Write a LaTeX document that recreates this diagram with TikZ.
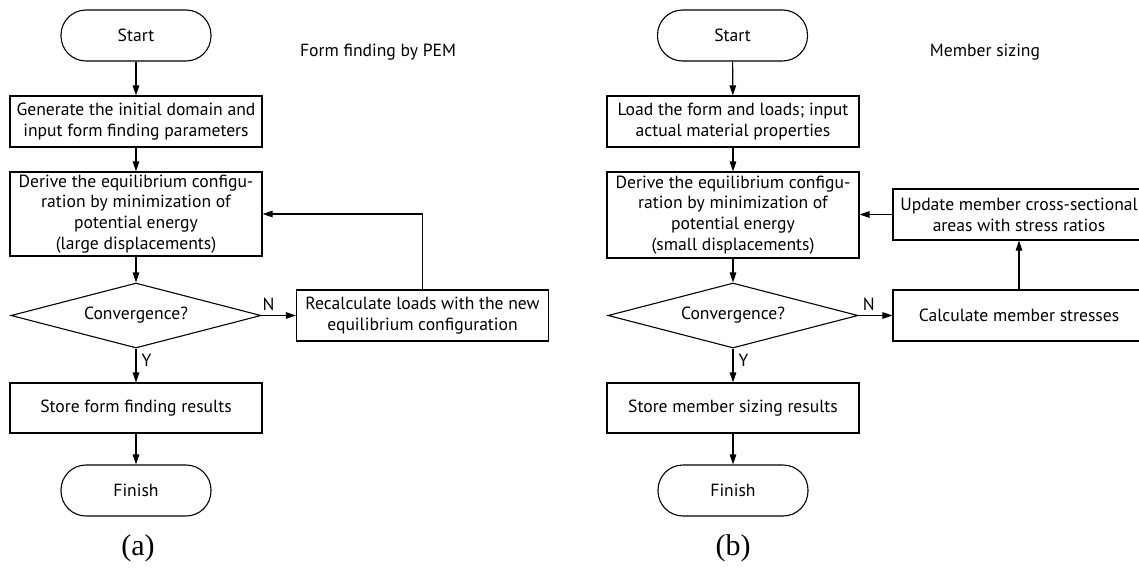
\documentclass[tikz,border=0pt]{standalone}
\usepackage{fontspec}
\setmainfont{PT Sans}
\newfontfamily\capfont{Liberation Serif}
\usetikzlibrary{arrows.meta,shapes.geometric}
\begin{document}
\begin{tikzpicture}[x=1pt,y=-1pt,
  every node/.style={font=\fontsize{17.6}{20.8}\selectfont, inner sep=0pt, align=center},
  terminal/.style={draw, line width=1.1pt, rounded corners=25pt, minimum width=150pt, minimum height=51pt},
  procbox/.style={draw, line width=1.1pt, minimum width=252pt},
  decision/.style={draw, line width=1.1pt, diamond, aspect=3.85, minimum width=250pt, minimum height=65pt},
  arr/.style={line width=1.1pt, -{Triangle[length=10pt,width=6.5pt]}},
  lbl/.style={font=\fontsize{17.6}{20}\selectfont},
  captext/.style={font=\capfont\fontsize{30}{34}\selectfont}]
\useasboundingbox (0,0) rectangle (1139,573);
% ---------- (a) ----------
\node[terminal] (s1) at (136,35.5) {Start};
\node[procbox, minimum height=51pt] (b1) at (136,121.5) {Generate the initial domain and\\input form finding parameters};
\node[procbox, minimum height=84pt] (b2) at (136,214) {Derive the equilibrium configu-\\ration by minimization of\\potential energy\\(large displacements)};
\node[decision] (d1) at (136,315.5) {Convergence?};
\node[procbox, minimum height=50pt] (b3) at (136,408) {Store form finding results};
\node[terminal] (f1) at (136,490.5) {Finish};
\node[procbox, minimum height=51pt] (r1) at (422.5,315.5) {Recalculate loads with the new\\equilibrium configuration};
\node (t1) at (378,52) {Form finding by PEM};
\node[captext] (ca) at (138,548) {(a)};
\draw[arr] (s1) -- (b1);
\draw[arr] (b1) -- (b2);
\draw[arr] (b2) -- (d1);
\draw[arr] (d1) -- node[lbl, pos=0.35, right=5pt] (y1) {Y} (b3);
\draw[arr] (b3) -- (f1);
\draw[arr] (d1.east) -- node[lbl, pos=0.2, above=4pt] (n1) {N} (r1.west);
\draw[arr] (r1.north) |- (b2.east);
% ---------- (b) ----------
\node[terminal] (s2) at (732.5,35.5) {Start};
\node[procbox, minimum height=51pt] (c1) at (733,121.5) {Load the form and loads; input\\actual material properties};
\node[procbox, minimum height=86pt] (c2) at (733,215) {Derive the equilibrium configu-\\ration by minimization of\\potential energy\\(small displacements)};
\node[decision] (d2) at (733,315.5) {Convergence?};
\node[procbox, minimum height=50pt] (c3) at (733,408) {Store member sizing results};
\node[terminal] (f2) at (733,490.5) {Finish};
\node[procbox, minimum height=51pt] (calc) at (1019,315.5) {Calculate member stresses};
\node[procbox, minimum height=51pt] (upd) at (1019,214.5) {Update member cross-sectional\\areas with stress ratios};
\node (t2) at (985,52) {Member sizing};
\node[captext] (cb) at (733,548) {(b)};
\draw[arr] (s2) -- (c1);
\draw[arr] (c1) -- (c2);
\draw[arr] (c2) -- (d2);
\draw[arr] (d2) -- node[lbl, pos=0.35, right=5pt] (y2) {Y} (c3);
\draw[arr] (c3) -- (f2);
\draw[arr] (d2.east) -- node[lbl, pos=0.3, above=4pt] (n2) {N} (calc.west);
\draw[arr] (calc) -- (upd);
\draw[arr] (upd.west) -- (upd.west -| c2.east);
\end{tikzpicture}
\end{document}
